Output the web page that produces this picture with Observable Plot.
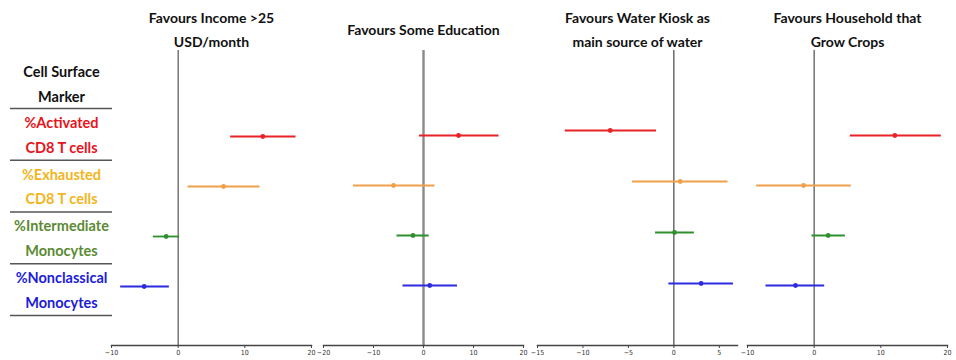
<!DOCTYPE html>
<html><head><meta charset="utf-8">
<script src="https://cdn.jsdelivr.net/npm/d3@7"></script>
<script src="https://cdn.jsdelivr.net/npm/@observablehq/plot@0.6"></script>
<style>
body{margin:0;background:#fff;}
#chart{position:relative;width:956px;height:360px;overflow:hidden;background:#fff;}
#chart svg{position:absolute;top:0;overflow:visible;}
</style></head><body><div id="chart"></div>
<script>
// Categories
const markers = ["%Activated CD8 T cells", "%Exhausted CD8 T cells", "%Intermediate Monocytes", "%Nonclassical Monocytes"];
const markerLabels = ["%Activated\nCD8 T cells", "%Exhausted\nCD8 T cells", "%Intermediate\nMonocytes", "%Nonclassical\nMonocytes"];
const headerLabel = "Cell Surface\nMarker";
const labelColors = ["#e8141c", "#f2b51c", "#5b8a33", "#1c1cd8"];
const lineColors = ["#e82226", "#f0a04b", "#2f8f2f", "#2b2be0"];

// Panel titles
const panelTitles = [
  "Favours Income >25\nUSD/month",
  "Favours Some Education",
  "Favours Water Kiosk as\nmain source of water",
  "Favours Household that\nGrow Crops"
];

// Series: estimate, lower, upper (per marker)
const incomeEst  = [12.7, 6.8, -1.8, -5.1];
const incomeLow  = [7.8, 1.4, -3.8, -8.7];
const incomeHigh = [17.6, 12.2, 0.15, -1.4];

const educEst  = [7.0, -6.0, -2.1, 1.25];
const educLow  = [-0.9, -14.1, -5.4, -4.2];
const educHigh = [15.0, 2.2, 1.05, 6.7];

const waterEst  = [-7.0, 0.7, 0.07, 3.0];
const waterLow  = [-12.0, -4.6, -2.07, -0.6];
const waterHigh = [-1.96, 5.9, 2.2, 6.5];

const cropsEst  = [12.1, -1.6, 2.1, -2.8];
const cropsLow  = [5.35, -8.7, -0.4, -7.3];
const cropsHigh = [19.0, 5.5, 4.6, 1.5];

// Axis domains and tick labels
const domain1 = [-10, 20], ticks1 = [-10, 0, 10, 20];
const domain2 = [-20, 20], ticks2 = [-20, -10, 0, 10, 20];
const domain3 = [-15, 7],  ticks3 = [-15, -10, -5, 0, 5];
const domain4 = [-10, 20], ticks4 = [-10, 0, 10, 20];

const chart = document.getElementById("chart");
const FONT = "Lato, 'Open Sans', sans-serif";

// Label column
const labelRows = markers.map((m, i) => ({idx: i, label: markerLabels[i], color: labelColors[i]}));
const seps = [-0.5, 0.5, 1.5, 2.5, 3.5];
const labelPlot = Plot.plot({
  width: 125, height: 360,
  marginLeft: 10, marginRight: 13, marginTop: 50, marginBottom: 15,
  style: {background: "transparent", fontFamily: FONT},
  y: {domain: [-0.5, 3.5], range: [108, 315], axis: null},
  x: {axis: null},
  marks: [
    Plot.ruleY(seps, {stroke: "#555", strokeWidth: 1.6}),
    Plot.text([headerLabel], {y: -1.02, text: d => d, frameAnchor: "middle", fontSize: 14.5, fontWeight: "bold", fill: "#111", lineHeight: 1.7}),
    Plot.text(labelRows, {y: "idx", dy: -2, text: "label", fill: "color", frameAnchor: "middle", fontSize: 14.5, fontWeight: "bold", lineHeight: 1.7})
  ]
});
labelPlot.style.left = "0px";
chart.appendChild(labelPlot);

function panel(title, est, low, high, domain, ticks, left, yRange, zero) {
  const rows = markers.map((m, i) => ({marker: m, est: est[i], low: low[i], high: high[i], color: lineColors[i]}));
  const p = Plot.plot({
    width: 221, height: 360,
    marginLeft: 10, marginRight: 11, marginTop: 50, marginBottom: 15,
    style: {background: "transparent", fontFamily: FONT},
    x: {domain, axis: null},
    y: {type: "point", domain: markers, range: yRange, padding: 0, axis: null},
    marks: [
      Plot.ruleX([0], {stroke: zero.color, strokeWidth: zero.width}),
      Plot.frame({anchor: "bottom", stroke: "#444", strokeWidth: 1.5}),
      Plot.axisX({ticks, tickSize: 3, tickPadding: 2, fontSize: 7, fontFamily: "'Liberation Sans Narrow', 'DejaVu Sans Condensed', sans-serif", fill: "#333", stroke: "#444", anchor: "bottom"}),
      Plot.link(rows, {x1: "low", x2: "high", y1: "marker", y2: "marker", stroke: "color", strokeWidth: 1.8}),
      Plot.dot(rows, {x: "est", y: "marker", fill: "color", r: 2.4, stroke: "none"}),
      Plot.text([title], {frameAnchor: "top", dy: -23, lineAnchor: "middle", text: d => d, fontSize: 14, fontWeight: "bold", fill: "#111", lineHeight: 1.7})
    ]
  });
  p.style.left = left + "px";
  chart.appendChild(p);
}

panel(panelTitles[0], incomeEst, incomeLow, incomeHigh, domain1, ticks1, 101, [135, 286], {color: "#555", width: 1.2});
panel(panelTitles[1], educEst, educLow, educHigh, domain2, ticks2, 313, [134, 285], {color: "#8a8a8a", width: 2.4});
panel(panelTitles[2], waterEst, waterLow, waterHigh, domain3, ticks3, 527, [129, 283], {color: "#333", width: 1.1});
panel(panelTitles[3], cropsEst, cropsLow, cropsHigh, domain4, ticks4, 737, [134, 285], {color: "#666", width: 1.4});
</script></body></html>
